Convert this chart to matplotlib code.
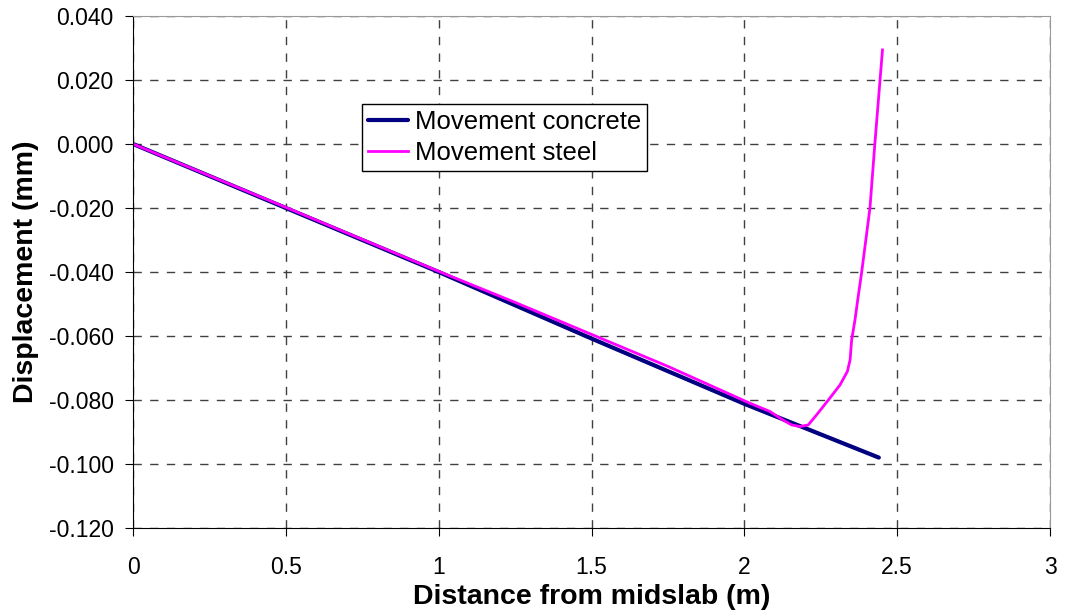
import numpy as np
import matplotlib.pyplot as plt

plt.rcParams['font.family'] = ['Liberation Sans', 'DejaVu Sans']

# Movement of concrete along slab
concreteX = [0.0, 0.5, 1.0, 1.5, 2.0, 2.44]
concreteY = [0.0, -0.0200, -0.0400, -0.0608, -0.0812, -0.0980]

# Movement of steel along slab
steelX = [0.0, 0.5, 1.0, 1.25, 1.5, 1.75, 2.018, 2.084, 2.127, 2.155, 2.182, 2.209,
          2.236, 2.275, 2.313, 2.337, 2.346, 2.351, 2.362, 2.372, 2.384, 2.411, 2.427,
          2.444, 2.452]
steelY = [0.0, -0.0198, -0.0398, -0.0495, -0.0595, -0.0695, -0.0810, -0.0836, -0.0863,
          -0.0878, -0.0883, -0.0878, -0.0847, -0.0800, -0.0753, -0.0711, -0.0675,
          -0.0613, -0.0550, -0.0480, -0.0400, -0.0200, 0.0, 0.0200, 0.0294]

fig = plt.figure(figsize=(10.65, 6.13), dpi=100)
ax = fig.add_axes([0.1249, 0.1387, 0.861, 0.8352])

ax.plot(concreteX, concreteY, color='#000080', lw=3.0, label='Movement concrete',
        solid_capstyle='round')
ax.plot(steelX, steelY, color='#ff00ff', lw=2.0, label='Movement steel',
        solid_joinstyle='round')

ax.set_xlim(0, 3)
ax.set_ylim(-0.12, 0.04)
ax.set_xticks(np.arange(0, 3.01, 0.5))
ax.set_xticklabels(['0', '0.5', '1', '1.5', '2', '2.5', '3'])
ax.set_yticks(np.arange(-0.12, 0.041, 0.02))
ax.set_yticklabels(['%.3f' % v for v in np.arange(-0.12, 0.041, 0.02)])

ax.grid(True, color='#404040', linestyle=(0, (6, 6)), lw=1.0)
ax.tick_params(axis='both', direction='out', length=6, labelsize=16.5, color='black')
ax.tick_params(axis='x', pad=14)
ax.tick_params(axis='y', pad=8)
for side in ['top', 'right']:
    ax.spines[side].set_color('#999999')
for side in ['left', 'bottom']:
    ax.spines[side].set_color('black')

ax.set_xlabel('Distance from midslab (m)', fontsize=20.5, fontweight='bold', labelpad=4)
ax.set_ylabel('Displacement (mm)', fontsize=20.5, fontweight='bold', labelpad=7)

leg = ax.legend(loc='upper left', bbox_to_anchor=(0.2497, 0.828), fontsize=18.5,
                frameon=True, fancybox=False, edgecolor='black', framealpha=1,
                handlelength=1.55, handletextpad=0.25, borderpad=0.25, labelspacing=0.25,
                borderaxespad=0)
leg.get_frame().set_linewidth(1.0)

fig.savefig('out.png', dpi=100)
